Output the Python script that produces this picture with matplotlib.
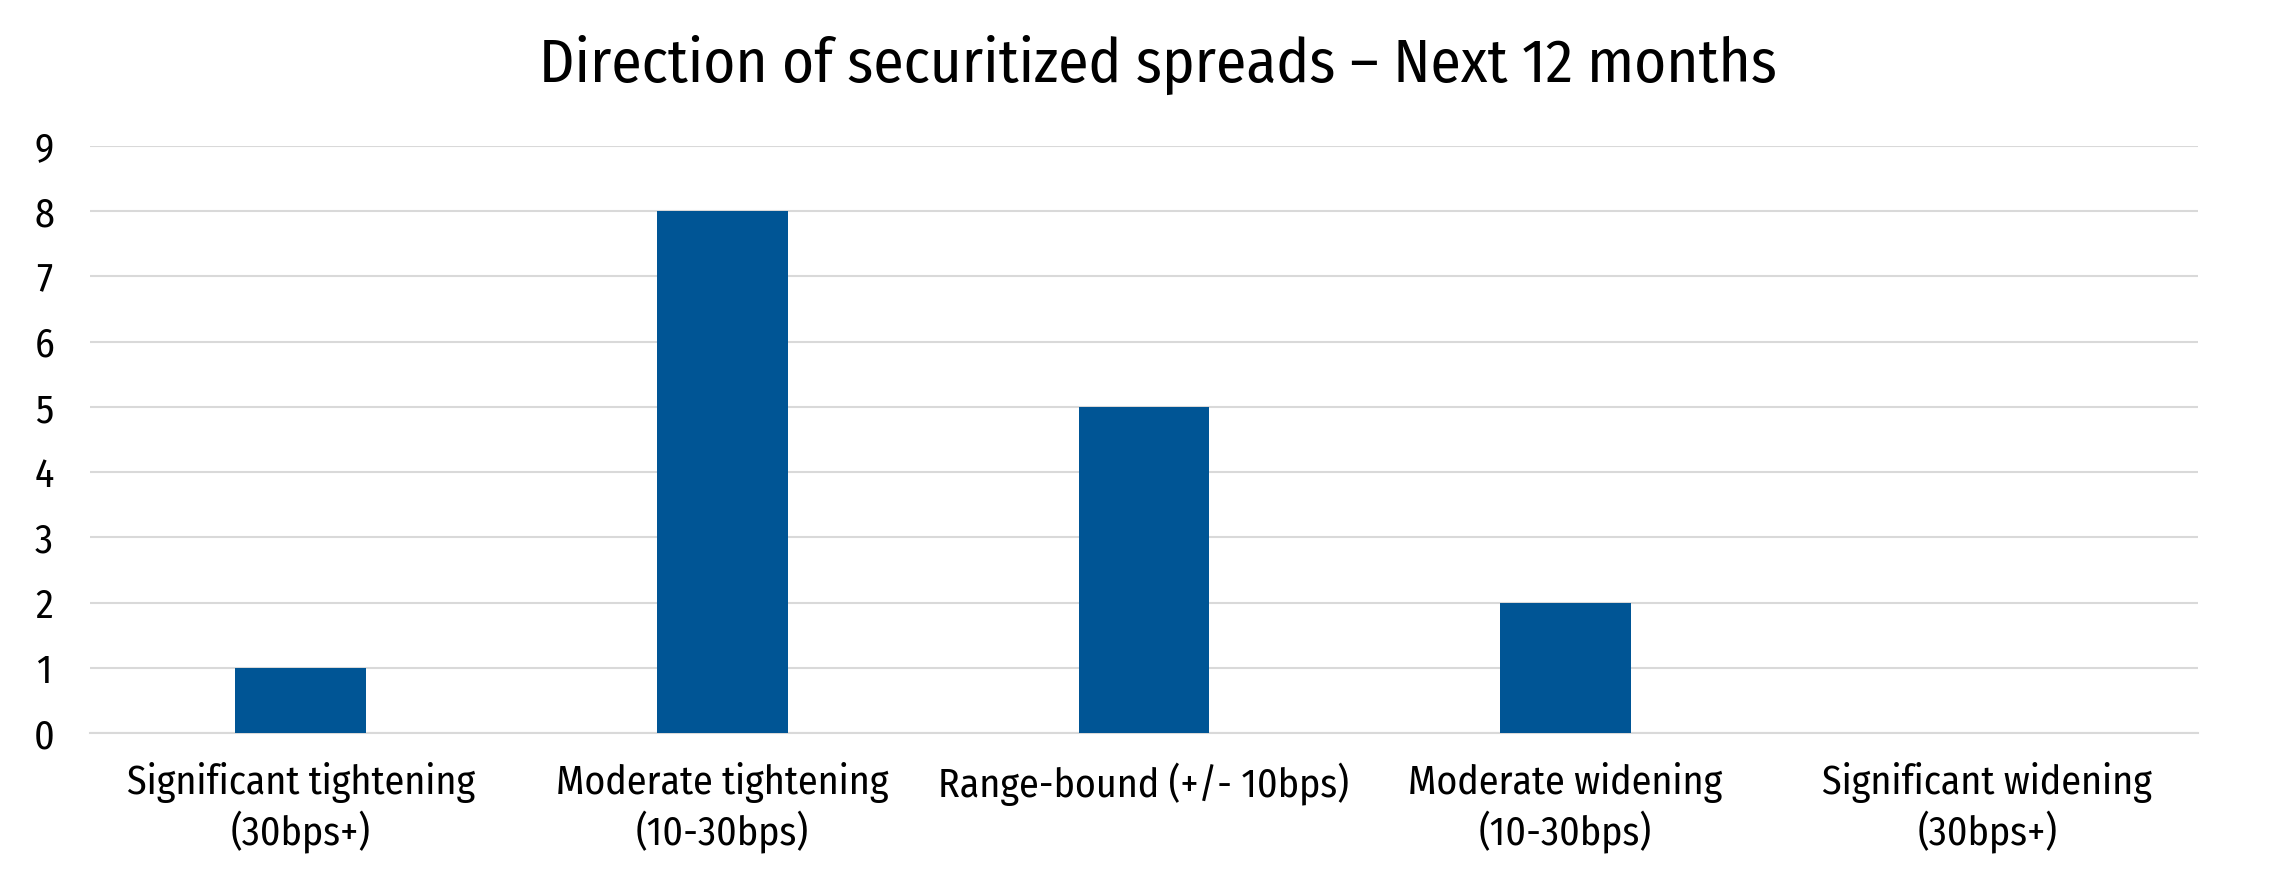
import numpy as np
import matplotlib.pyplot as plt
from matplotlib import font_manager

categories = ["Significant tightening\n(30bps+)", "Moderate tightening\n(10-30bps)",
              "Range-bound (+/- 10bps)", "Moderate widening\n(10-30bps)",
              "Significant widening\n(30bps+)"]
counts = [1, 8, 5, 2, 0]
yticks = list(range(0, 10))

# narrow font like the original, if one is there
names = set(f.name for f in font_manager.fontManager.ttflist)
fam = "DejaVu Sans"
for n in ["Fira Sans Condensed", "Roboto Condensed", "PT Sans Narrow",
          "Archivo Narrow", "Liberation Sans Narrow", "Liberation Sans"]:
    if n in names:
        fam = n
        break
plt.rcParams["font.family"] = [fam, "DejaVu Sans"]

fig = plt.figure(figsize=(22.7, 8.86), dpi=100)
ax = fig.add_axes([90/2270, 1-733/886, (2198-90)/2270, (733-146)/886])

x = np.arange(len(categories))
ax.bar(x, counts, width=0.31, color="#005595", zorder=3)

ax.set_xlim(-0.5, len(categories)-0.5)
ax.set_ylim(0, 9)
ax.set_yticks(yticks)
ax.set_xticks(x)
ax.set_xticklabels(categories, fontsize=28.7, linespacing=1.22)
ax.tick_params(axis="y", labelsize=28.7, length=0, pad=33)
ax.tick_params(axis="x", length=0, pad=21)
for t in ax.get_yticklabels():
    t.set_horizontalalignment("center")
ax.yaxis.grid(True, color="#d9d9d9", linewidth=1.5, zorder=0)
for s in ["top", "right", "left"]:
    ax.spines[s].set_visible(False)
ax.spines["bottom"].set_color("#d9d9d9")
ax.spines["bottom"].set_linewidth(1.5)

fig.text(0.51, 1-65/886, "Direction of securitized spreads \u2013 Next 12 months",
         ha="center", va="center", fontsize=44)

fig.savefig("out.png", dpi=100, facecolor="white")
